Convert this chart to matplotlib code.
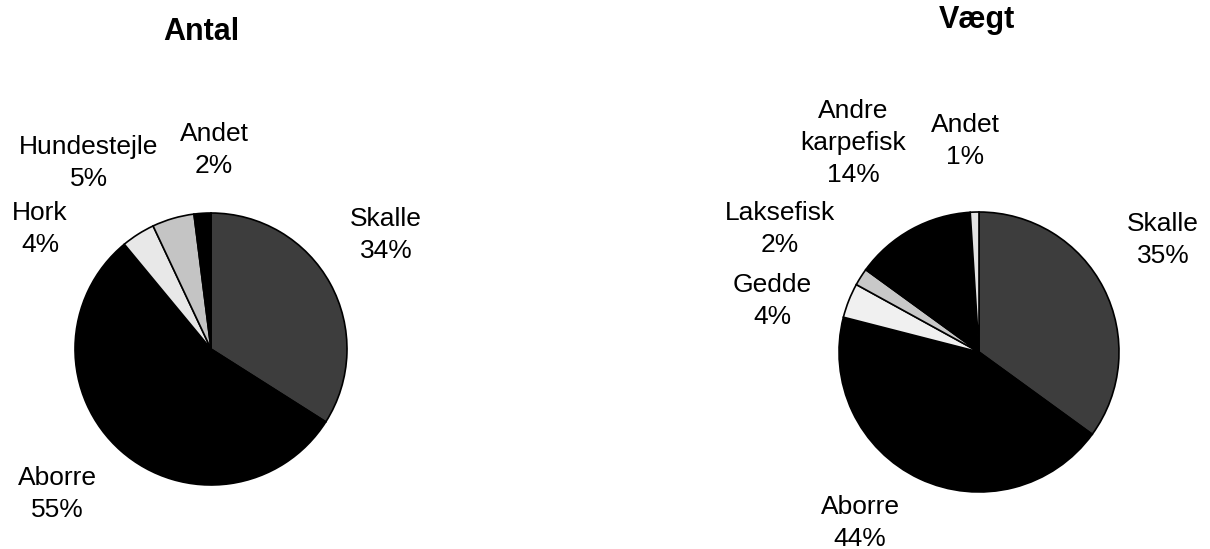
import matplotlib
matplotlib.use("Agg")
import matplotlib.pyplot as plt

plt.rcParams["font.family"] = ["Liberation Sans", "DejaVu Sans"]

# Fangst fordelt paa arter - antal
antal_navne = ["Skalle", "Aborre", "Hork", "Hundestejle", "Andet"]
antal_pct = [34, 55, 4, 5, 2]
antal_farver = ["#3d3d3d", "#000000", "#e8e8e8", "#c4c4c4", "#000000"]

# Fangst fordelt paa arter - vaegt
vaegt_navne = ["Skalle", "Aborre", "Gedde", "Laksefisk", "Andre\nkarpefisk", "Andet"]
vaegt_pct = [35, 44, 4, 2, 14, 1]
vaegt_farver = ["#3d3d3d", "#000000", "#f0f0f0", "#c8c8c8", "#000000", "#e2e2e2"]

W, H = 1210, 549
fig = plt.figure(figsize=(W / 100, H / 100), dpi=100)
ax = fig.add_axes([0, 0, 1, 1])

def tegn_pie(pct, farver, center, radius):
    ax.pie(pct, colors=farver, startangle=90, counterclock=False,
           center=(center[0], H - center[1]), radius=radius,
           wedgeprops=dict(edgecolor="black", linewidth=1.2))

tegn_pie(antal_pct, antal_farver, (211, 349), 136)
tegn_pie(vaegt_pct, vaegt_farver, (979, 352), 140)

# label positions (pixel coords, y from top)
antal_pos = [(386, 235), (57, 494), (40, 229), (89, 163), (214, 150)]
vaegt_pos = [(1163, 240), (860, 523), (772, 301), (780, 229), (853, 143), (965, 141)]

for navne, pct, pos in [(antal_navne, antal_pct, antal_pos),
                        (vaegt_navne, vaegt_pct, vaegt_pos)]:
    for n, p, (x, y) in zip(navne, pct, pos):
        ax.text(x, H - y, f"{n}\n{p}%", ha="center", va="center",
                fontsize=19, linespacing=1.42)

ax.text(201, H - 32, "Antal", ha="center", va="center", fontsize=22, fontweight="bold")
ax.text(977, H - 20, "Vægt", ha="center", va="center", fontsize=22, fontweight="bold")

ax.set_xlim(0, W)
ax.set_ylim(0, H)
ax.set_aspect("auto")
ax.axis("off")

fig.savefig("out.png", dpi=100, facecolor="white")
